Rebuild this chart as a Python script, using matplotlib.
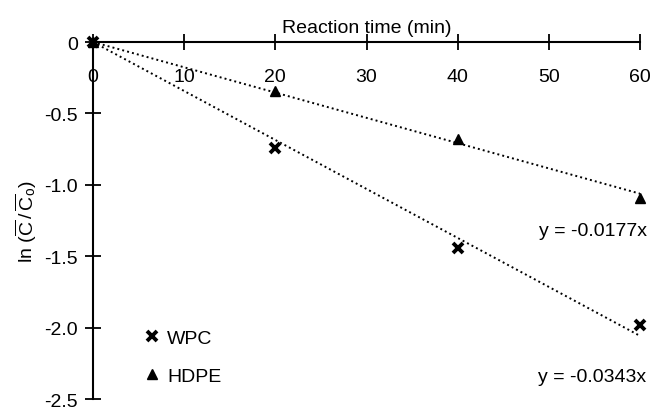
import matplotlib
matplotlib.use("Agg")
import numpy as np
import matplotlib.pyplot as plt

plt.rcParams['font.family'] = ['Liberation Sans', 'DejaVu Sans']
plt.rcParams['mathtext.fontset'] = 'custom'
plt.rcParams['mathtext.rm'] = 'Liberation Sans'

# reaction time (min)
time = [0, 20, 40, 60]
# ln(C/Co)
wpc = [0, -0.74, -1.44, -1.98]
hdpe = [0, -0.34, -0.68, -1.09]
# fitted slopes shown on the chart
wpc_slope = -0.0343
hdpe_slope = -0.0177

x_ticks = [0, 10, 20, 30, 40, 50, 60]
y_ticks = [0, -0.5, -1.0, -1.5, -2.0, -2.5]
y_tick_labels = ['0', '-0.5', '-1.0', '-1.5', '-2.0', '-2.5']

fs = 14

fig = plt.figure(figsize=(6.54, 4.14), dpi=100)
ax = fig.add_axes([0.1422, 0.0338, 0.8364, 0.8623])

fit_x = np.array([0, 60])
ax.plot(fit_x, wpc_slope * fit_x, linestyle=(0, (1, 1.6)), color='black', lw=1.4)
ax.plot(fit_x, hdpe_slope * fit_x, linestyle=(0, (1, 1.6)), color='black', lw=1.4)

ax.plot(time, wpc, linestyle='none', marker='x', color='black',
        markersize=6.5, markeredgewidth=2.8, label='WPC', clip_on=False)
ax.plot(time, hdpe, linestyle='none', marker='^', color='black',
        markersize=7.5, label='HDPE', clip_on=False)

ax.set_xlim(0, 60)
ax.set_ylim(-2.5, 0)

ax.spines['top'].set_visible(False)
ax.spines['right'].set_visible(False)
ax.spines['bottom'].set_position(('data', 0))
ax.spines['bottom'].set_linewidth(1.5)
ax.spines['left'].set_linewidth(1.5)

ax.set_xticks(x_ticks)
ax.set_yticks(y_ticks)
ax.set_yticklabels(y_tick_labels)
ax.tick_params(axis='both', direction='inout', length=12, width=1.3,
               labelsize=fs)
ax.tick_params(axis='x', pad=13)
ax.tick_params(axis='y', pad=5)

ax.xaxis.set_label_position('top')
ax.set_xlabel('Reaction time (min)', fontsize=fs, labelpad=7)
ax.set_ylabel(r'ln ($\overline{\rm C}\,/\,\overline{\rm C}_{\rm o}$)', fontsize=fs,
              labelpad=4)

ax.text(1.012, 0.473, 'y = -0.0177x', transform=ax.transAxes, ha='right',
        va='center', fontsize=fs)
ax.text(1.012, 0.062, 'y = -0.0343x', transform=ax.transAxes, ha='right',
        va='center', fontsize=fs)

ax.legend(loc='lower left', bbox_to_anchor=(0.079, 0.018), frameon=False,
          fontsize=fs, handlelength=0.8, handletextpad=0.4, labelspacing=1.05,
          borderaxespad=0)

fig.savefig('out.png', dpi=100)
